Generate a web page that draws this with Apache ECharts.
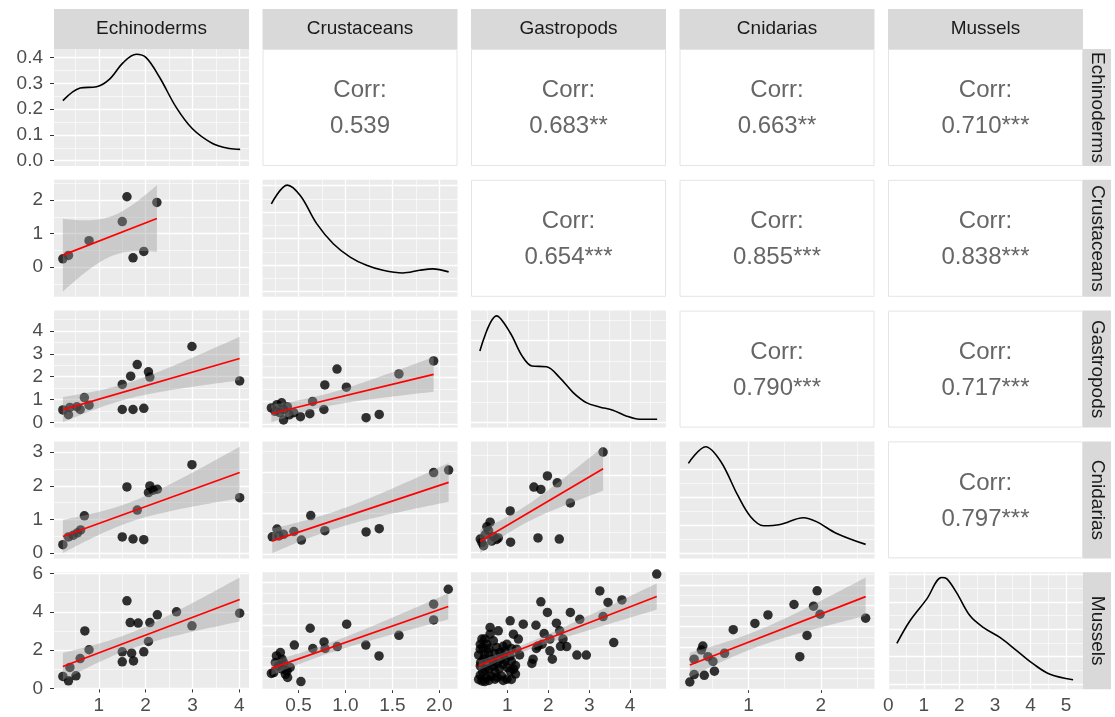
<!DOCTYPE html>
<html>
<head>
<meta charset="utf-8">
<title>ggpairs</title>
<script src="https://cdn.jsdelivr.net/npm/echarts@6/dist/echarts.min.js"></script>
<style>
html, body { margin: 0; padding: 0; background: #fff; }
#chart { width: 1115px; height: 717px; }
</style>
</head>
<body>
<div id="chart"></div>
<script>
// variables, their full data range and axis breaks
var varNames = ['Echinoderms', 'Crustaceans', 'Gastropods', 'Cnidarias', 'Mussels'];
var varRanges = [[0.23, 4.02], [0.21, 2.10], [0.33, 4.66], [0.17, 2.62], [0.24, 5.23]];
var varBreaks = [[0, 1, 2, 3, 4], [0, 0.5, 1, 1.5, 2], [0, 1, 2, 3, 4], [0, 1, 2], [0, 1, 2, 3, 4, 5]];

// upper triangle correlations
var corrRows = [0, 0, 0, 0, 1, 1, 1, 2, 2, 3];
var corrCols = [1, 2, 3, 4, 2, 3, 4, 3, 4, 4];
var corrText = ['0.539', '0.683**', '0.663**', '0.710***', '0.654***', '0.855***', '0.838***', '0.790***', '0.717***', '0.797***'];

// diagonal densities [x, density]
var densEchinoderms = [[0.23, 0.233], [0.6, 0.282], [0.95, 0.287], [1.23, 0.317], [1.52, 0.381], [1.8, 0.413], [2.01, 0.4], [2.3, 0.323], [2.65, 0.208], [3.0, 0.124], [3.43, 0.067], [3.79, 0.047], [4.02, 0.044]];
var densCrustaceans = [[0.21, 0.826], [0.38, 1.004], [0.52, 0.903], [0.695, 0.638], [0.87, 0.451], [1.05, 0.325], [1.225, 0.247], [1.4, 0.2], [1.61, 0.175], [1.79, 0.2], [1.93, 0.213], [2.1, 0.185]];
var densGastropods = [[0.33, 0.348], [0.74, 0.519], [1.07, 0.437], [1.36, 0.324], [1.6, 0.275], [1.96, 0.271], [2.28, 0.218], [2.61, 0.145], [2.93, 0.096], [3.25, 0.075], [3.58, 0.059], [3.9, 0.031], [4.23, 0.015], [4.66, 0.015]];
var densCnidarias = [[0.17, 0.639], [0.41, 0.758], [0.62, 0.651], [0.85, 0.414], [1.03, 0.259], [1.21, 0.195], [1.44, 0.204], [1.76, 0.252], [1.94, 0.224], [2.22, 0.14], [2.62, 0.062]];
var densMussels = [[0.24, 0.148], [0.61, 0.231], [1.08, 0.31], [1.5, 0.389], [1.64, 0.385], [1.92, 0.334], [2.3, 0.249], [2.68, 0.206], [3.14, 0.17], [3.62, 0.121], [4.09, 0.072], [4.55, 0.035], [5.2, 0.015]];

// lower triangle scatter data [x, y]
var ptsCruEch = [[0.23, 0.25], [0.35, 0.35], [0.79, 0.79], [1.5, 1.36], [1.6, 2.1], [1.73, 0.28], [1.96, 0.47], [2.24, 1.93]];
var ptsGasEch = [[0.23, 0.54], [0.35, 0.33], [0.38, 0.65], [0.53, 0.68], [0.6, 0.56], [0.69, 1.08], [0.79, 0.75], [1.5, 1.66], [1.5, 0.56], [1.68, 2.02], [1.73, 0.56], [1.82, 2.53], [1.96, 0.61], [2.06, 2.21], [2.09, 1.98], [2.99, 3.32], [4.01, 1.81]];
var ptsCniEch = [[0.23, 0.25], [0.35, 0.48], [0.45, 0.53], [0.54, 0.6], [0.61, 0.69], [0.69, 1.11], [1.5, 0.48], [1.6, 1.97], [1.73, 0.42], [1.82, 1.28], [1.96, 0.4], [2.06, 1.8], [2.09, 2.0], [2.16, 1.87], [2.25, 1.9], [2.99, 2.63], [4.01, 1.65]];
var ptsMusEch = [[0.23, 0.63], [0.35, 0.4], [0.38, 1.1], [0.51, 0.66], [0.6, 1.56], [0.7, 3.0], [0.79, 2.02], [1.5, 1.39], [1.5, 1.91], [1.6, 4.57], [1.67, 3.44], [1.7, 1.84], [1.74, 1.44], [1.84, 3.41], [1.96, 1.91], [2.06, 2.45], [2.09, 3.44], [2.25, 3.84], [2.66, 4.0], [2.99, 3.27], [4.01, 3.93]];
var ptsGasCru = [[0.21, 0.7], [0.27, 0.84], [0.32, 0.92], [0.34, 0.63], [0.38, 0.75], [0.34, 0.18], [0.45, 0.49], [0.52, 0.32], [0.62, 0.45], [0.65, 0.98], [0.77, 0.63], [0.78, 1.69], [0.91, 2.37], [1.01, 1.59], [1.22, 0.28], [1.36, 0.42], [1.57, 2.16], [1.94, 2.72], [0.25, 0.55], [0.3, 0.5], [0.4, 0.4]];
var ptsCniCru = [[0.22, 0.42], [0.27, 0.61], [0.29, 0.44], [0.34, 0.48], [0.45, 0.55], [0.53, 0.34], [0.63, 0.94], [0.78, 0.57], [1.22, 0.54], [1.36, 0.62], [1.94, 1.99], [2.1, 2.05]];
var ptsMusCru = [[0.21, 0.73], [0.264, 1.55], [0.306, 1.71], [0.288, 1.08], [0.34, 1.24], [0.324, 0.93], [0.377, 0.85], [0.383, 0.54], [0.41, 1.01], [0.455, 2.06], [0.525, 0.35], [0.624, 2.85], [0.652, 1.9], [0.772, 2.21], [0.783, 1.9], [0.913, 1.99], [1.013, 3.04], [1.217, 2.06], [1.358, 1.55], [1.57, 2.52], [1.94, 3.98], [1.94, 3.24], [2.096, 4.68], [0.235, 0.77], [0.36, 0.69], [0.253, 1.24], [0.324, 1.4]];
var ptsCniGas = [[0.34, 0.33], [0.46, 0.44], [0.54, 0.56], [0.58, 0.77], [0.5, 0.65], [0.66, 0.4], [0.78, 0.36], [1.07, 1.06], [1.08, 0.25], [1.65, 1.68], [1.82, 1.62], [1.75, 0.36], [1.98, 1.97], [2.22, 1.79], [2.27, 0.33], [2.54, 1.27], [3.34, 2.59], [0.38, 0.24], [0.62, 0.28], [0.74, 0.32], [0.42, 0.16]];
var ptsMusGas = [[4.65, 5.39], [3.26, 4.6], [3.46, 4.06], [3.8, 4.18], [3.34, 3.4], [3.6, 2.18], [2.77, 3.27], [2.54, 3.59], [2.93, 1.59], [2.7, 1.59], [1.82, 4.09], [1.98, 3.59], [1.7, 2.99], [2.2, 3.09], [2.28, 2.73], [2.04, 2.34], [2.36, 2.34], [2.45, 1.99], [2.04, 1.79], [1.75, 2.02], [1.63, 1.4], [1.71, 1.9], [1.39, 3.04], [1.07, 3.2], [1.15, 2.57], [0.58, 2.89], [0.78, 2.73], [0.38, 2.34], [0.34, 1.87], [0.5, 2.1], [0.66, 2.26], [0.99, 2.1], [1.27, 2.34], [1.23, 1.87], [1.07, 1.55], [0.82, 1.71], [0.62, 1.4], [0.42, 1.4], [0.54, 1.71], [0.34, 1.08], [0.46, 0.93], [0.66, 1.08], [0.9, 1.16], [1.07, 0.85], [0.86, 0.61], [0.5, 0.54], [0.34, 0.65], [0.38, 0.38], [0.7, 0.46], [0.99, 0.46], [1.15, 0.93], [0.82, 1.4], [0.94, 1.79], [0.74, 1.95], [0.58, 2.57], [0.34, 2.1],
    [0.3, 0.45], [0.45, 0.35], [0.55, 0.4], [0.6, 0.6], [0.75, 0.55], [0.9, 0.4], [1.1, 0.45], [1.2, 0.7], [0.4, 0.8], [0.55, 0.95], [0.7, 0.8], [0.8, 0.95], [1.0, 1.0], [1.2, 1.1], [0.35, 1.25], [0.5, 1.25], [0.65, 1.3], [0.75, 1.2], [0.95, 1.35], [1.1, 1.3], [0.3, 1.6], [0.45, 1.6], [0.7, 1.65], [0.9, 1.55], [1.3, 1.6], [0.4, 1.95], [0.55, 1.9], [0.9, 2.0], [1.1, 1.9], [0.45, 2.35], [1.6, 1.2], [1.9, 2.6], [2.1, 1.4], [2.3, 2.0], [1.85, 2.1]];
var ptsMusCni = [[0.19, 0.33], [0.25, 0.69], [0.39, 0.65], [0.53, 0.85], [0.25, 1.43], [0.37, 2.06], [0.35, 1.87], [0.44, 1.55], [0.51, 1.32], [0.67, 1.71], [0.79, 2.85], [1.09, 3.15], [1.27, 3.56], [1.63, 4.06], [1.71, 1.55], [1.81, 2.57], [1.9, 3.98], [1.95, 4.72], [1.99, 3.59], [2.62, 3.4]];

var densities = [densEchinoderms, densCrustaceans, densGastropods, densCnidarias, densMussels];
var densBreaks = [[0, 0.1, 0.2, 0.3, 0.4], [0, 0.25, 0.5, 0.75, 1], [0, 0.2, 0.4], [0, 0.2, 0.4, 0.6], [0, 0.1, 0.2, 0.3, 0.4]];
var lowerPanels = {
    '1,0': ptsCruEch, '2,0': ptsGasEch, '3,0': ptsCniEch, '4,0': ptsMusEch,
    '2,1': ptsGasCru, '3,1': ptsCniCru, '4,1': ptsMusCru,
    '3,2': ptsCniGas, '4,2': ptsMusGas,
    '4,3': ptsMusCni
};
var lowerYBreaks = {
    '1,0': [0, 1, 2], '2,0': [0, 1, 2, 3, 4], '3,0': [0, 1, 2, 3], '4,0': [0, 2, 4, 6],
    '2,1': [0, 1, 2, 3, 4], '3,1': [0, 1, 2], '4,1': [0, 1, 2, 3, 4, 5],
    '3,2': [0, 1, 2], '4,2': [0, 1, 2, 3, 4, 5],
    '4,3': [0, 1, 2, 3, 4, 5]
};

// layout
var LEFT0 = 54, TOP0 = 49, STEP_X = 208.5, STEP_Y = 130.8, PW = 195, PH = 117;
var FONT = '"Liberation Sans", Arial, sans-serif';

function expand(lo, hi) {
    var d = (hi - lo) * 0.05;
    return [lo - d, hi + d];
}

function minorOf(maj) {
    var st = maj[1] - maj[0], out = [maj[0] - st / 2];
    for (var i = 0; i < maj.length; i++) out.push(maj[i] + st / 2);
    return out;
}

function tQuant(df) {
    var z = 1.959964, z3 = z * z * z, z5 = z3 * z * z, z7 = z5 * z * z;
    return z + (z3 + z) / (4 * df) + (5 * z5 + 16 * z3 + 3 * z) / (96 * df * df) +
        (3 * z7 + 19 * z5 + 17 * z3 - 15 * z) / (384 * df * df * df);
}

// lm fit with 95% confidence band, like geom_smooth(method = "lm")
function lmFit(pts) {
    var n = pts.length, mx = 0, my = 0, sxx = 0, sxy = 0, sse = 0;
    pts.forEach(function (p) { mx += p[0]; my += p[1]; });
    mx /= n; my /= n;
    pts.forEach(function (p) { sxx += (p[0] - mx) * (p[0] - mx); sxy += (p[0] - mx) * (p[1] - my); });
    var b = sxy / sxx, a = my - b * mx;
    pts.forEach(function (p) { var e = p[1] - a - b * p[0]; sse += e * e; });
    var s = Math.sqrt(sse / (n - 2)), t = tQuant(n - 2);
    var xs = pts.map(function (p) { return p[0]; });
    var x0 = Math.min.apply(null, xs), x1 = Math.max.apply(null, xs);
    var band = [];
    for (var i = 0; i <= 80; i++) {
        var x = x0 + (x1 - x0) * i / 80, f = a + b * x;
        var se = s * Math.sqrt(1 / n + (x - mx) * (x - mx) / sxx);
        band.push([x, f - t * se, f + t * se]);
    }
    return { line: [[x0, a + b * x0], [x1, a + b * x1]], band: band };
}

function fmt(dec) {
    return function (v) { return v.toFixed(dec); };
}

var grids = [], xAxes = [], yAxes = [], series = [], graphics = [];

// white panel grid lines (major + minor), drawn under the data
function gridLines(g, xr, yr, xMaj, yMaj) {
    var d = [];
    function add(vals, key, w, r) {
        vals.forEach(function (v) {
            if (v > r[0] && v < r[1]) {
                var it = { lineStyle: { width: w } };
                it[key] = v;
                d.push(it);
            }
        });
    }
    add(minorOf(xMaj), 'xAxis', 0.6, xr);
    add(minorOf(yMaj), 'yAxis', 0.6, yr);
    add(xMaj, 'xAxis', 1.3, xr);
    add(yMaj, 'yAxis', 1.3, yr);
    return {
        type: 'line', xAxisIndex: g, yAxisIndex: g, data: [], silent: true, z: 1,
        markLine: {
            z: 1, silent: true, symbol: ['none', 'none'], label: { show: false }, precision: 6,
            animation: false, lineStyle: { color: '#ffffff', type: 'solid' }, data: d
        }
    };
}

var g = 0;
for (var r = 0; r < 5; r++) {
    for (var c = 0; c <= r; c++) {
        var gLeft = LEFT0 + c * STEP_X, gTop = TOP0 + r * STEP_Y;
        var xr = expand(varRanges[c][0], varRanges[c][1]);
        var yr, yMaj, key = r + ',' + c;
        var fit = null;
        if (r === c) {
            var dmax = Math.max.apply(null, densities[c].map(function (p) { return p[1]; }));
            yr = expand(0, dmax);
            yMaj = densBreaks[c];
        } else {
            fit = lmFit(lowerPanels[key]);
            var lo = varRanges[r][0], hi = varRanges[r][1];
            fit.band.forEach(function (b) { lo = Math.min(lo, b[1]); hi = Math.max(hi, b[2]); });
            yr = expand(lo, hi);
            yMaj = lowerYBreaks[key];
        }
        grids.push({ left: gLeft, top: gTop, width: PW, height: PH, show: true, backgroundColor: '#ebebeb', borderWidth: 0 });
        var isBottom = r === 4, isLeft = c === 0;
        var xMaj = varBreaks[c];
        xAxes.push({
            gridIndex: g, type: 'value', min: xr[0], max: xr[1],
            axisLine: { show: false }, splitLine: { show: false },
            axisTick: { show: isBottom, length: 4, lineStyle: { color: '#333333' }, customValues: xMaj },
            axisLabel: {
                show: isBottom, customValues: xMaj, formatter: fmt(c === 1 ? 1 : 0),
                color: '#4d4d4d', fontSize: 19, fontFamily: FONT, margin: 7
            }
        });
        yAxes.push({
            gridIndex: g, type: 'value', min: yr[0], max: yr[1],
            axisLine: { show: false }, splitLine: { show: false },
            axisTick: { show: isLeft, length: 4, lineStyle: { color: '#333333' }, customValues: yMaj },
            axisLabel: {
                show: isLeft, customValues: yMaj, formatter: fmt(r === 0 ? 1 : 0),
                color: '#4d4d4d', fontSize: 19, fontFamily: FONT, margin: 11
            }
        });
        series.push(gridLines(g, xr, yr, xMaj, yMaj));
        if (r === c) {
            series.push({
                type: 'line', xAxisIndex: g, yAxisIndex: g, data: densities[c], smooth: 0.35,
                symbol: 'none', lineStyle: { color: '#000000', width: 1.6 }, z: 3, silent: true
            });
        } else {
            series.push({
                type: 'scatter', xAxisIndex: g, yAxisIndex: g, data: lowerPanels[key],
                symbolSize: 9.5, itemStyle: { color: '#000000' }, z: 2, silent: true
            });
            (function (band) {
                series.push({
                    type: 'custom', xAxisIndex: g, yAxisIndex: g, data: band, z: 3, silent: true,
                    encode: { x: 0, y: [1, 2] },
                    renderItem: function (params, api) {
                        if (params.dataIndex !== 0) return null;
                        var p = [];
                        for (var i = 0; i < band.length; i++) p.push(api.coord([band[i][0], band[i][2]]));
                        for (var j = band.length - 1; j >= 0; j--) p.push(api.coord([band[j][0], band[j][1]]));
                        return { type: 'polygon', shape: { points: p }, style: { fill: 'rgba(153,153,153,0.4)' } };
                    }
                });
            })(fit.band);
            series.push({
                type: 'line', xAxisIndex: g, yAxisIndex: g, data: fit.line, symbol: 'none',
                lineStyle: { color: '#ff0000', width: 1.7 }, z: 4, silent: true
            });
        }
        g++;
    }
}

// top strips
for (var c2 = 0; c2 < 5; c2++) {
    var sx = LEFT0 + c2 * STEP_X;
    graphics.push({ type: 'rect', silent: true, shape: { x: sx, y: 9, width: PW, height: 40 }, style: { fill: '#d9d9d9' } });
    graphics.push({
        type: 'text', silent: true, x: sx + PW / 2, y: 29,
        style: { text: varNames[c2], fill: '#1a1a1a', fontSize: 19, fontFamily: FONT, align: 'center', verticalAlign: 'middle' }
    });
}
// right strips
for (var r2 = 0; r2 < 5; r2++) {
    var sy = TOP0 + r2 * STEP_Y;
    graphics.push({ type: 'rect', silent: true, shape: { x: LEFT0 + 4 * STEP_X + PW, y: sy, width: 28, height: PH }, style: { fill: '#d9d9d9' } });
    graphics.push({
        type: 'text', silent: true, x: LEFT0 + 4 * STEP_X + PW + 14, y: sy + PH / 2, rotation: -Math.PI / 2,
        style: { text: varNames[r2], fill: '#1a1a1a', fontSize: 19, fontFamily: FONT, align: 'center', verticalAlign: 'middle' }
    });
}
// upper triangle correlation panels
for (var k = 0; k < corrText.length; k++) {
    var px = LEFT0 + corrCols[k] * STEP_X, py = TOP0 + corrRows[k] * STEP_Y;
    graphics.push({ type: 'rect', silent: true, shape: { x: px + 0.5, y: py + 0.5, width: PW - 1, height: PH - 1 }, style: { fill: '#ffffff', stroke: '#e4e4e4', lineWidth: 1 } });
    graphics.push({
        type: 'text', silent: true, x: px + PW / 2, y: py + PH / 2 - 17,
        style: { text: 'Corr:', fill: '#666666', fontSize: 24, fontFamily: FONT, align: 'center', verticalAlign: 'middle' }
    });
    graphics.push({
        type: 'text', silent: true, x: px + PW / 2, y: py + PH / 2 + 19,
        style: { text: corrText[k], fill: '#666666', fontSize: 24, fontFamily: FONT, align: 'center', verticalAlign: 'middle' }
    });
}

var chart = echarts.init(document.getElementById('chart'), null, { renderer: 'canvas' });
chart.setOption({
    animation: false,
    backgroundColor: '#ffffff',
    grid: grids,
    xAxis: xAxes,
    yAxis: yAxes,
    series: series,
    graphic: { elements: graphics }
});
</script>
</body>
</html>
